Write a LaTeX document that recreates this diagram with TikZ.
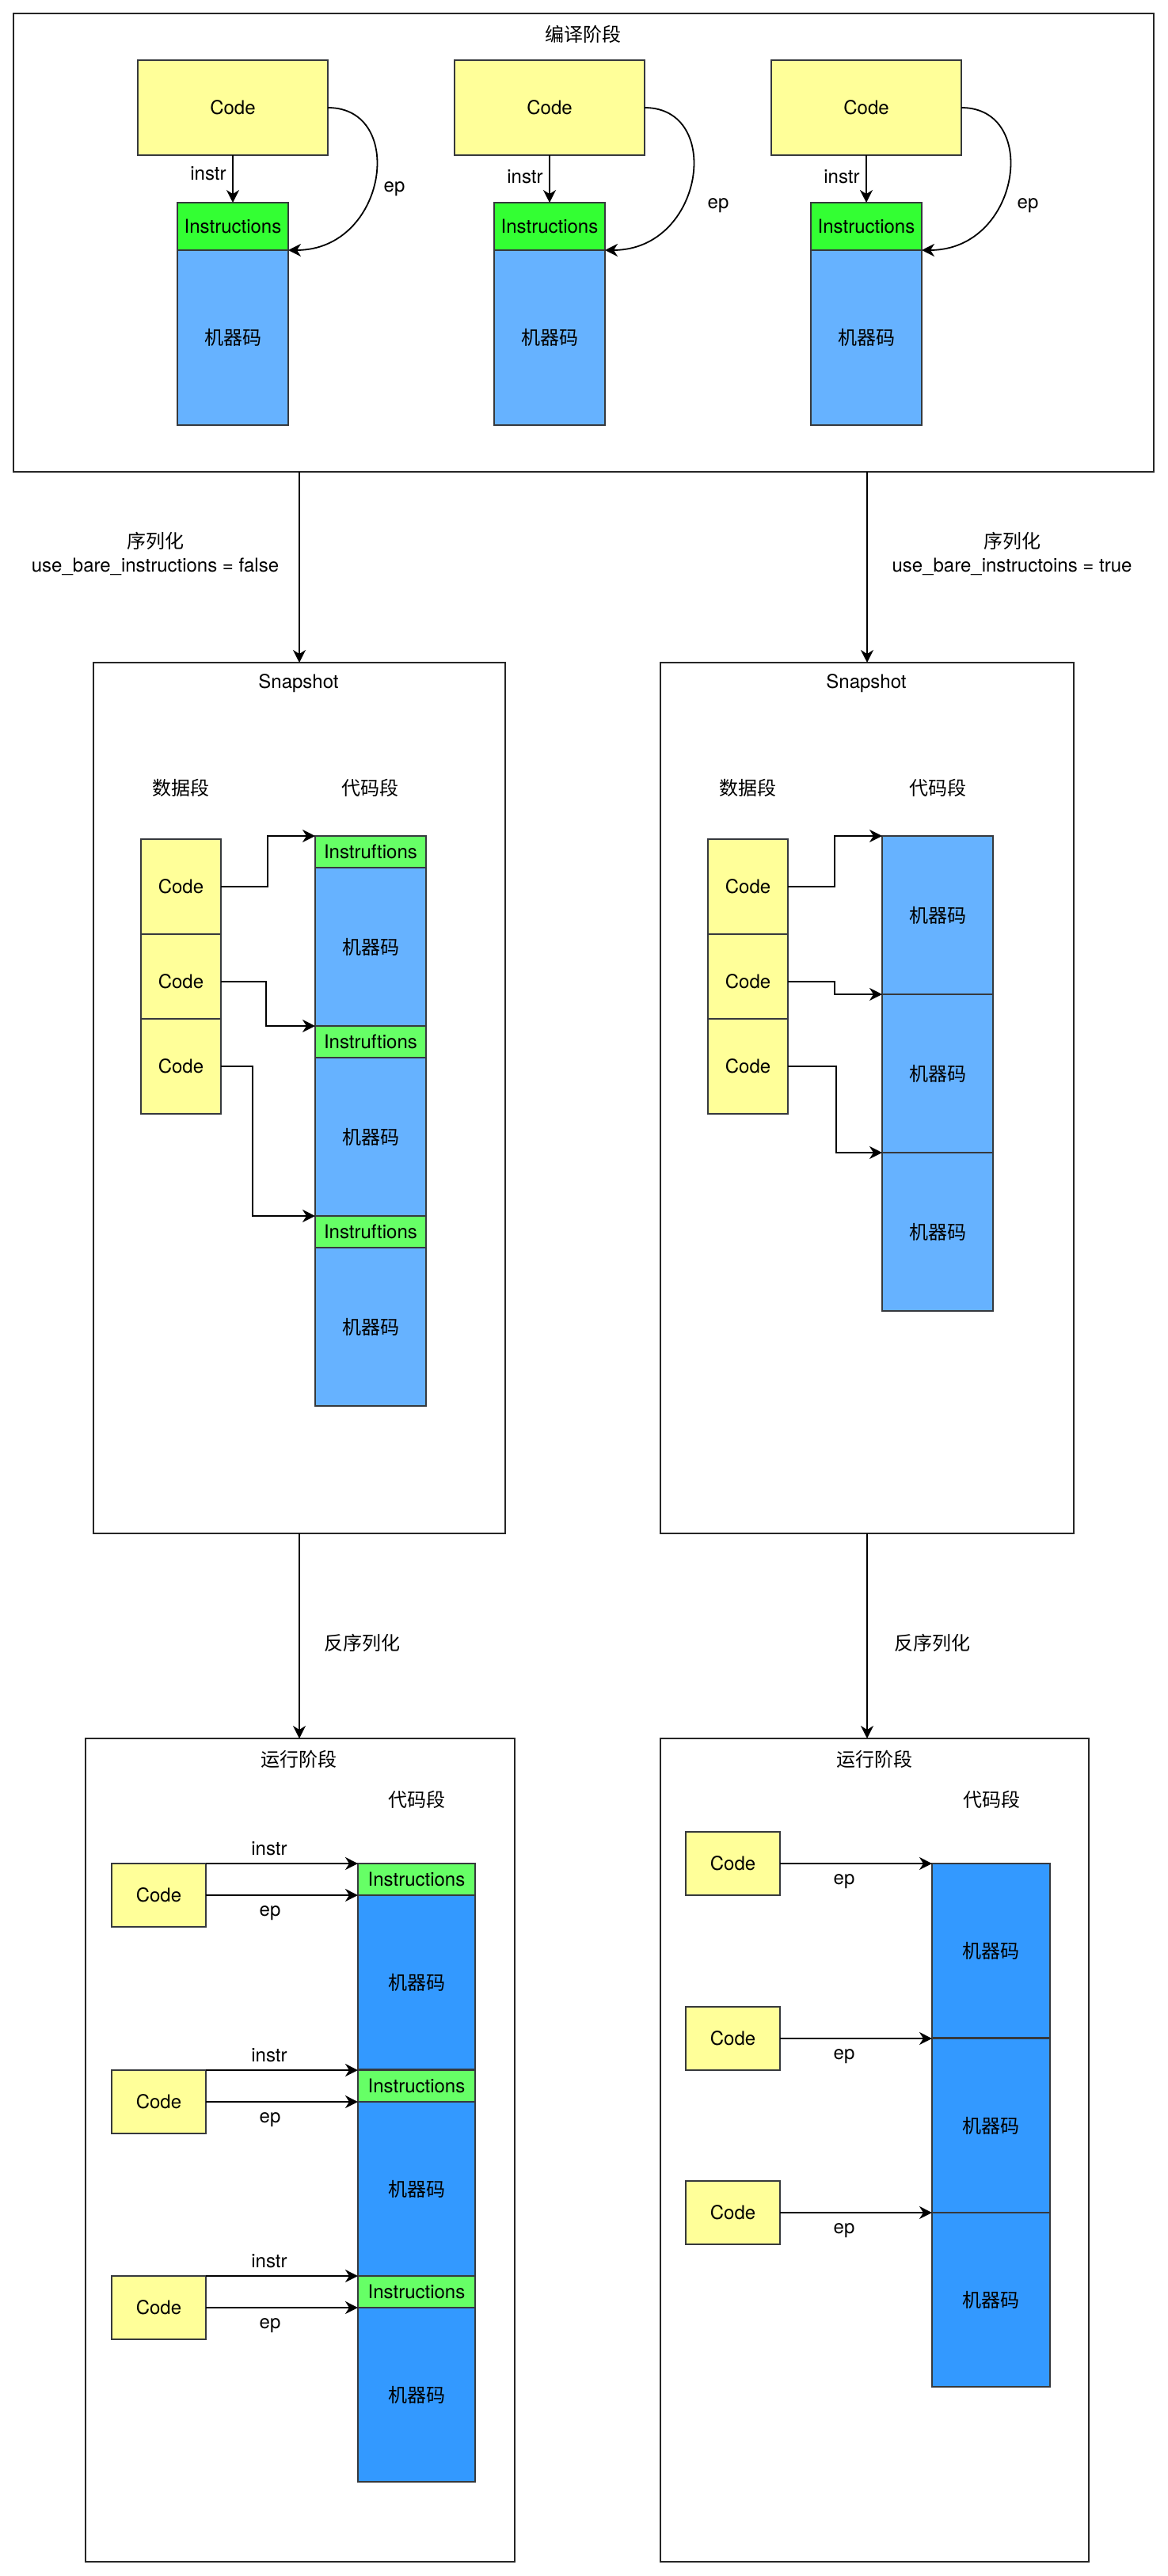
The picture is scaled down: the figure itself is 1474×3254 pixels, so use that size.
\documentclass[tikz,border=0pt]{standalone}
\usepackage{fontspec}
\setmainfont{TeX Gyre Heros}
\newfontfamily\zhfont{Noto Sans CJK SC}
\usetikzlibrary{arrows.meta,positioning,calc}
\definecolor{codeyellow}{HTML}{FFFF99}
\definecolor{insgreen}{HTML}{33FF33}
\definecolor{insgreenlt}{HTML}{66FF66}
\definecolor{mcblue}{HTML}{66B2FF}
\definecolor{mcbluedk}{HTML}{3399FF}
\definecolor{edgegray}{HTML}{36393D}
\tikzset{
  blk/.style={draw=edgegray, line width=1pt, inner sep=0pt, outer sep=0pt, anchor=north west},
  wh/.style 2 args={minimum width=#1*0.5pt, minimum height=#2*0.5pt},
  codebox/.style={blk, fill=codeyellow},
  insbox/.style={blk, fill=insgreen},
  mcbox/.style={blk, fill=mcblue},
  stagebox/.style={blk, draw=black!85},
  lbl/.style={inner sep=0pt},
  link/.style={-{Stealth[length=8pt,width=8pt,inset=2.5pt]}, line width=0.9pt},
}

\begin{document}
\begin{tikzpicture}[x=0.5pt, y=-0.5pt, font=\fontsize{12}{15}\selectfont]
\useasboundingbox[fill=white] (0,0) rectangle (1474,3254);

% compile stage
\node[stagebox, line width=1.4pt, wh={1440}{579}] (compile) at (17,17) {};
\node[lbl] (compileT) at (736,43) {\zhfont 编译阶段};
\foreach \i/\x/\lx/\ly/\ex/\ey in {1/174/263/219/498/239, 2/574/663/223/907/260, 3/974/1063/223/1298/260} {
  \node[codebox, wh={240}{120}] (c\i) at (\x,76) {Code};
  \node[insbox, wh={140}{60}] (i\i) at (\x+50,256) {Instructions};
  \node[mcbox, wh={140}{221}] (m\i) at (\x+50,316) {\zhfont 机器码};
  \draw[link] (c\i.south) -- (i\i.north);
  \node[lbl] (instrT\i) at (\lx,\ly) {instr};
  \draw[link] (c\i.east) .. controls +(100,0) and +(125,0) .. (i\i.south east);
  \node[lbl] (epT\i) at (\ex,\ey) {ep};
}

% snapshots
\node[stagebox, wh={520}{1100}] (snapL) at (118,837) {};
\node[stagebox, wh={522}{1100}] (snapR) at (834,837) {};
\draw[link] (snapL.north |- compile.south) -- (snapL.north);
\draw[link] (snapR.north |- compile.south) -- (snapR.north);
\node[lbl, align=center] (serL) at (196,699) {\zhfont 序列化\\use\_bare\_instructions = false};
\node[lbl, align=center] (serR) at (1278,699) {\zhfont 序列化\\use\_bare\_instructoins = true};

\node[lbl] (snapLT) at (377,863) {Snapshot};
\node[lbl] (dataL) at (228,995) {\zhfont 数据段};
\node[lbl] (textL) at (467,995) {\zhfont 代码段};
\node[lbl] (snapRT) at (1094,863) {Snapshot};
\node[lbl] (dataR) at (944,995) {\zhfont 数据段};
\node[lbl] (textR) at (1184,995) {\zhfont 代码段};

\foreach \k/\y in {1/1060, 2/1180, 3/1287} {
  \node[codebox, wh={101}{120}] (sL\k) at (178,\y) {Code};
  \node[codebox, wh={101}{120}] (sR\k) at (894,\y) {Code};
}
\foreach \k/\y in {1/1056, 2/1296, 3/1536} {
  \node[insbox, fill=insgreenlt, wh={140}{40}] (iL\k) at (398,\y) {Instruftions};
  \node[mcbox, wh={140}{200}] (mL\k) at (398,\y+40) {\zhfont 机器码};
}
\foreach \k/\y in {1/1056, 2/1256, 3/1456}
  \node[mcbox, wh={140}{200}] (mR\k) at (1114,\y) {\zhfont 机器码};

\draw[link] (sL1.east) -- +(59,0) |- (iL1.north west);
\draw[link] (sL2.east) -- +(57,0) |- (iL2.north west);
\draw[link] (sL3.east) -- +(40,0) |- (iL3.north west);
\draw[link] (sR1.east) -- +(59,0) |- (mR1.north west);
\draw[link] (sR2.east) -- +(59,0) |- (mR2.north west);
\draw[link] (sR3.east) -- +(61,0) |- (mR3.north west);

% run stage
\node[stagebox, wh={542}{1040}] (runL) at (108,2196) {};
\node[stagebox, wh={541}{1040}] (runR) at (834,2196) {};
\draw[link] (snapL.south) -- (snapL.south |- runL.north);
\draw[link] (snapR.south) -- (snapR.south |- runR.north);
\node[lbl] (deserL) at (457,2075) {\zhfont 反序列化};
\node[lbl] (deserR) at (1177,2075) {\zhfont 反序列化};

\node[lbl] (runLT) at (377,2222) {\zhfont 运行阶段};
\node[lbl] (textRL) at (526,2273) {\zhfont 代码段};
\node[lbl] (runRT) at (1104,2222) {\zhfont 运行阶段};
\node[lbl] (textRR) at (1252,2273) {\zhfont 代码段};

\foreach \k/\y in {1/2354, 2/2615, 3/2875} {
  \node[codebox, wh={119}{80}] (rL\k) at (141,\y) {Code};
  \node[insbox, fill=insgreenlt, wh={148}{40}] (riL\k) at (452,\y) {Instructions};
  \node[mcbox, fill=mcbluedk, wh={148}{220}] (rmL\k) at (452,\y+40) {\zhfont 机器码};
  \draw[link] (rL\k.north east) -- (riL\k.north west);
  \draw[link] (rL\k.east) -- (rmL\k.north west);
  \node[lbl] (instrR\k) at (340,\y-19) {instr};
  \node[lbl] (epR\k) at (341,\y+63) {ep};
}
\foreach \k/\cy/\my in {1/2314/2354, 2/2535/2575, 3/2755/2795} {
  \node[codebox, wh={119}{80}] (rR\k) at (866,\cy) {Code};
  \node[mcbox, fill=mcbluedk, wh={149}{220}] (rmR\k) at (1177,\my) {\zhfont 机器码};
  \draw[link] (rR\k.east) -- (rmR\k.north west);
  \node[lbl] (epRR\k) at (1066,\my+23) {ep};
}
\end{tikzpicture}
\end{document}
